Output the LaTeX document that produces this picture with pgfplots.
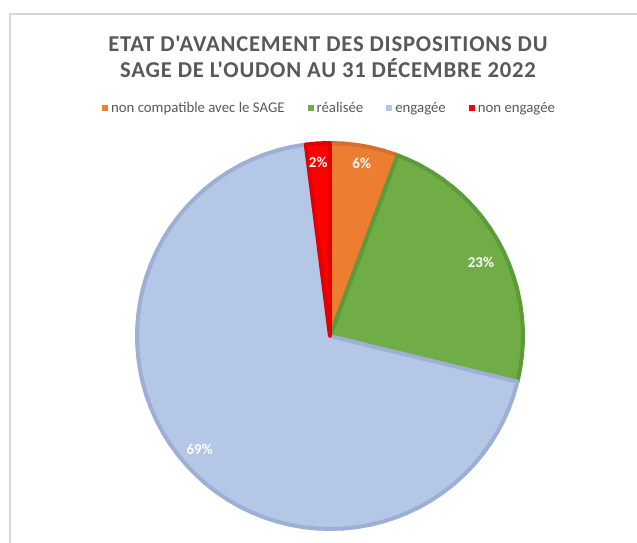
\documentclass[border=0pt]{standalone}
\usepackage{pgfplots}
\pgfplotsset{compat=1.18}
\usepgfplotslibrary{polar}
\usepackage{fontspec}
\setmainfont{Carlito}[Ligatures=TeXOff]
\newfontfamily\titlefont{Carlito}[Ligatures=TeXOff, LetterSpace=3.5]
\definecolor{txt}{HTML}{595959}
\definecolor{cOr}{HTML}{ED7D31}
\definecolor{cOrB}{HTML}{D4702C}
\definecolor{cGr}{HTML}{70AD47}
\definecolor{cGrB}{HTML}{5C9B39}
\definecolor{cBl}{HTML}{B4C7E7}
\definecolor{cBlB}{HTML}{9DAFD5}
\definecolor{cRd}{HTML}{FF0000}
\definecolor{cRdB}{HTML}{E30000}
\begin{document}
\begin{tikzpicture}
% values (%): non compatible 5.7, realisee 23.1, engagee 69.2, non engagee 2.0
% slices start at 12 o'clock and run clockwise
\fill[white] (0,0) rectangle (477.75pt,-407.25pt);
\draw[black!16, line width=1.1pt] (7.5pt,-407.25pt) -- (7.5pt,-10.5pt) -- (477.75pt,-10.5pt);
\node[text=txt, font=\titlefont\fontsize{17}{19.5}\selectfont\bfseries, align=center] at (246pt,-43pt)
  {ETAT D'AVANCEMENT DES DISPOSITIONS DU\\SAGE DE L'OUDON AU 31 DÉCEMBRE 2022};
\begin{polaraxis}[
  at={(247.5pt,-252pt)}, anchor=center,
  scale only axis, width=289.5pt, height=289.5pt,
  ymin=0, ymax=1, xmin=0, xmax=360, hide axis, clip=false,
  legend columns=4,
  legend style={at={(0.5,1.09)}, anchor=center, draw=none, fill=none,
    font=\fontsize{11.1}{13}\selectfont, text=txt,
    /tikz/every even column/.append style={column sep=15pt},
    nodes={inner sep=2.2pt}},
  legend image code/.code={\fill[#1,draw=none] (0pt,-2.3pt) rectangle (4.6pt,2.3pt);},
]
\addplot[fill=cOr, draw=cOrB, line width=3pt, line join=round] coordinates {
 (0,0) (90,1) (86,1) (82,1) (78,1) (74,1) (70,1) (69.48,1)} -- cycle;
\addlegendentry{non compatible avec le SAGE}
\addplot[fill=cGr, draw=cGrB, line width=3pt, line join=round] coordinates {
 (0,0) (69.48,1) (66,1) (62,1) (58,1) (54,1) (50,1) (46,1) (42,1) (38,1) (34,1)
 (30,1) (26,1) (22,1) (18,1) (14,1) (10,1) (6,1) (2,1) (358,1) (354,1) (350,1) (346.32,1)} -- cycle;
\addlegendentry{réalisée}
\addplot[fill=cBl, draw=cBlB, line width=3pt, line join=round] coordinates {
 (0,0) (346.32,1) (342,1) (338,1) (334,1) (330,1) (326,1) (322,1) (318,1) (314,1) (310,1)
 (306,1) (302,1) (298,1) (294,1) (290,1) (286,1) (282,1) (278,1) (274,1) (270,1)
 (266,1) (262,1) (258,1) (254,1) (250,1) (246,1) (242,1) (238,1) (234,1) (230,1)
 (226,1) (222,1) (218,1) (214,1) (210,1) (206,1) (202,1) (198,1) (194,1) (190,1)
 (186,1) (182,1) (178,1) (174,1) (170,1) (166,1) (162,1) (158,1) (154,1) (150,1)
 (146,1) (142,1) (138,1) (134,1) (130,1) (126,1) (122,1) (118,1) (114,1) (110,1)
 (106,1) (102,1) (98,1) (97.2,1)} -- cycle;
\addlegendentry{engagée}
\addplot[fill=cRd, draw=cRdB, line width=3pt, line join=round] coordinates {
 (0,0) (97.2,1) (94,1) (91,1) (90,1)} -- cycle;
\addlegendentry{non engagée}
\addplot[forget plot, draw=none, mark=none, nodes near coords, point meta=explicit symbolic,
  every node near coord/.append style={anchor=center, text=white,
    font=\fontsize{11.25}{13}\selectfont\bfseries}]
  coordinates {(79.6,0.91) [6\%] (93.9,0.90) [2\%] (26,0.87) [23\%] (221,0.895) [69\%]};
\end{polaraxis}
\pgfresetboundingbox
\useasboundingbox (0,0) rectangle (477.75pt,-407.25pt);
\end{tikzpicture}
\end{document}
